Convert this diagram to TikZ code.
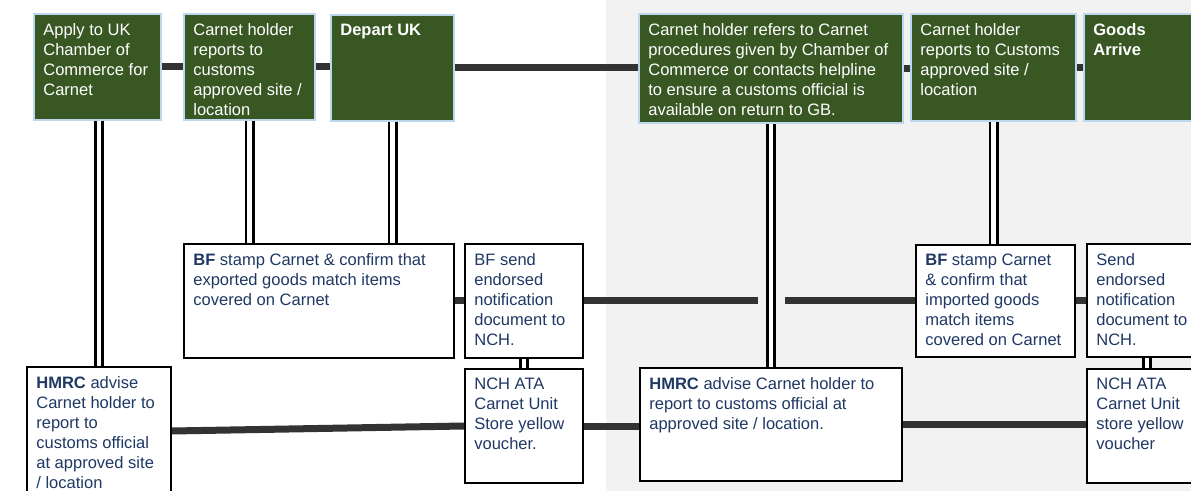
\documentclass[tikz,border=0pt]{standalone}
\usepackage{fontspec}
\setmainfont{Liberation Sans}
\usetikzlibrary{calc}
\definecolor{dgreen}{RGB}{56,87,35}
\definecolor{lblue}{RGB}{189,215,238}
\definecolor{navy}{RGB}{31,56,100}
\definecolor{conncol}{RGB}{51,51,51}
\definecolor{bgrey}{RGB}{242,242,242}
\newcommand\bt[3]{\parbox[t][\dimexpr #2pt*3/4-14pt\relax][t]{\dimexpr #1pt*3/4-14pt\relax}{\raggedright #3}}
\begin{document}
\begin{tikzpicture}[x=0.75pt,y=-0.75pt,
  basebox/.style={line width=1.5pt, anchor=north west, inner xsep=7pt, inner ysep=7pt, font=\fontsize{12.4}{15}\selectfont},
  gbox/.style={basebox, draw=lblue, fill=dgreen, text=white},
  wbox/.style={basebox, draw=black, fill=white, text=navy},
  conn/.style={draw=conncol, line width=5.25pt},
  dline/.style={draw=black, double=white, line width=2pt, double distance=3.5pt}]
\useasboundingbox (0,0) rectangle (1191,491);
\clip (0,0) rectangle (1191,491);
\fill[bgrey] (606,0) rectangle (1191,491);
% top row
\node[gbox] (b1) at (33,13) {\bt{127}{106}{Apply to UK\\Chamber of\\Commerce for\\Carnet}};
\node[gbox] (b2) at (183,13) {\bt{131}{106}{Carnet holder\\reports to\\customs\\approved site /\\location}};
\node[gbox] (b3) at (330,14) {\bt{123}{106}{\textbf{Depart UK}}};
\node[gbox] (b4) at (638,13) {\bt{264}{109}{Carnet holder refers to Carnet\\procedures given by Chamber of\\Commerce or contacts helpline\\to ensure a customs official is\\available on return to GB.}};
\node[gbox] (b5) at (910,13) {\bt{165}{107}{Carnet holder\\reports to Customs\\approved site /\\location}};
\node[gbox] (b6) at (1083,13) {\bt{130}{107}{\textbf{Goods}\\\textbf{Arrive}}};
% middle row
\node[wbox] (bf1) at (183,243) {\bt{270}{114}{\textbf{BF} stamp Carnet \& confirm that\\exported goods match items\\covered on Carnet}};
\node[wbox] (s1) at (464,243) {\bt{118}{114}{BF send\\endorsed\\notification\\document to\\NCH.}};
\node[wbox] (bf2) at (915,244) {\bt{159}{112}{\textbf{BF} stamp Carnet\\\& confirm that\\imported goods\\match items\\covered on Carnet}};
\node[wbox] (s2) at (1086,243) {\bt{120}{113}{Send\\endorsed\\notification\\document to\\NCH.}};
% bottom row
\node[wbox] (h1) at (26,366) {\bt{144}{140}{\textbf{HMRC} advise\\Carnet holder to\\report to\\customs official\\at approved site\\/ location}};
\node[wbox] (n1) at (464,368) {\bt{118}{114}{NCH ATA\\Carnet Unit\\Store yellow\\voucher.}};
\node[wbox] (h2) at (639,367) {\bt{262}{113}{\textbf{HMRC} advise Carnet holder to\\report to customs official at\\approved site / location.}};
\node[wbox] (n2) at (1086,368) {\bt{120}{114}{NCH ATA\\Carnet Unit\\store yellow\\voucher}};
% helper coordinates
\coordinate (ga) at ($(h2.north |- s1.east)+(-13,0)$);
\coordinate (gb) at ($(h2.north |- s1.east)+(14,0)$);
\coordinate (h1e) at ($(h1.north east)+(0,65)$);
% thick grey connectors
\draw[conn] (b1.east) -- (b2.west);
\draw[conn] (b2.east) -- (b2.east -| b3.west);
\draw[conn] (b3.east) -- (b3.east -| b4.west);
\draw[conn] (b4.east) -- (b4.east -| b5.west);
\draw[conn] (b5.east) -- (b5.east -| b6.west);
\draw[conn] (bf1.east) -- (bf1.east -| s1.west);
\draw[conn] (s1.east) -- (ga);
\draw[conn] (gb) -- (gb -| bf2.west);
\draw[conn] (bf2.east) -- (bf2.east -| s2.west);
\draw[conn] (h1e) -- (n1.west);
\draw[conn] (n1.east) -- (n1.east -| h2.west);
\draw[conn] (h2.east) -- (h2.east -| n2.west);
% double vertical connectors
\draw[dline] (h1.north |- b1.south) -- (h1.north);
\draw[dline] (b2.south) -- (b2.south |- bf1.north);
\draw[dline] (b3.south) -- (b3.south |- bf1.north);
\draw[dline] (b4.south) -- (h2.north);
\draw[dline] (b5.south) -- (b5.south |- bf2.north);
\draw[dline] (s1.south) -- (n1.north);
\draw[dline] (s2.south) -- (n2.north);
\end{tikzpicture}
\end{document}
